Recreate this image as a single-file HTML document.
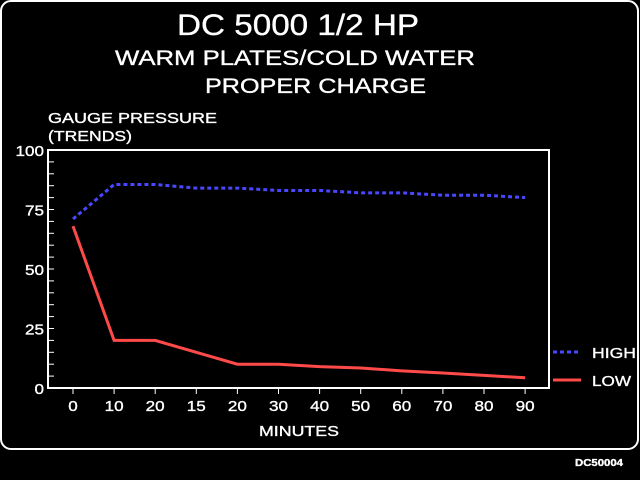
<!DOCTYPE html>
<html><head><meta charset="utf-8"><style>
html,body{margin:0;padding:0;background:#000;}
svg{display:block;font-family:"Liberation Sans",sans-serif;}
text{stroke:#fff;stroke-width:0.35;}
</style></head><body>
<svg id="chart" width="640" height="480" viewBox="0 0 640 480">
<rect x="0" y="0" width="640" height="480" fill="#000"/>
<rect x="1" y="1" width="637" height="448" rx="10" fill="none" stroke="#fff" stroke-width="2"/>
<text x="177" y="35" textLength="242" lengthAdjust="spacingAndGlyphs" font-size="30" fill="#fff">DC 5000 1/2 HP</text>
<text x="115" y="65" textLength="360" lengthAdjust="spacingAndGlyphs" font-size="21" fill="#fff">WARM PLATES/COLD WATER</text>
<text x="205" y="93" textLength="221" lengthAdjust="spacingAndGlyphs" font-size="21" fill="#fff">PROPER CHARGE</text>
<text x="48" y="123" textLength="169" lengthAdjust="spacingAndGlyphs" font-size="15" fill="#fff">GAUGE PRESSURE</text>
<text x="48" y="141" textLength="84" lengthAdjust="spacingAndGlyphs" font-size="15" fill="#fff">(TRENDS)</text>
<text x="259" y="436" textLength="80" lengthAdjust="spacingAndGlyphs" font-size="15" fill="#fff">MINUTES</text>
<text x="575" y="466" textLength="48" lengthAdjust="spacingAndGlyphs" font-size="10" font-weight="bold" fill="#fff">DC50004</text>
<rect x="48" y="150" width="501" height="238" fill="none" stroke="#fff" stroke-width="2"/>
<g id="axes"></g>
<g id="series"></g>
<g>
<line x1="553" y1="352" x2="581" y2="352" stroke="#4848ff" stroke-width="3" stroke-dasharray="4,3"/>
<text x="592" y="358" textLength="44" lengthAdjust="spacingAndGlyphs" font-size="15" fill="#fff">HIGH</text>
<line x1="553" y1="380" x2="581" y2="380" stroke="#ff4a4a" stroke-width="3"/>
<text x="592" y="386" textLength="39" lengthAdjust="spacingAndGlyphs" font-size="15" fill="#fff">LOW</text>
</g>
</svg>
<script>
const categories = ["0","10","20","15","20","30","40","50","60","70","80","90"];
const highValues = [71,85.5,85.5,84,84,83,83,82,82,81,81,80];
const lowValues = [68,20,20,15,10,10,9,8.4,7.2,6.3,5.3,4.3];
const yTicks = [0,25,50,75,100];
const yMinorTicks = [5,10,15,20,30,35,40,45,55,60,65,70,80,85,90,95];

const NS = "http://www.w3.org/2000/svg";
const x0 = 73, dx = 41.1, yBottom = 388, yTop = 150;
function xPos(i){ return x0 + i*dx; }
function yPos(v){ return yBottom - (v/100)*(yBottom-yTop); }
function mk(tag, attrs){ const e=document.createElementNS(NS,tag); for(const k in attrs) e.setAttribute(k,attrs[k]); return e; }

const axes = document.getElementById('axes');
yTicks.forEach(v=>{
  const s = String(v);
  const w = s.length*9.5;
  const t = mk('text',{x:44-w,y:yPos(v)+6,textLength:w,lengthAdjust:'spacingAndGlyphs','font-size':15,fill:'#fff'});
  
  
  t.textContent = s; axes.appendChild(t);
  const l = mk('line',{x1:48,x2:54,y1:yPos(v),y2:yPos(v),stroke:'#fff','stroke-width':1});
  
  
  axes.appendChild(l);
});
yMinorTicks.forEach(v=>{
  const l = mk('line',{x1:48,x2:54,y1:yPos(v),y2:yPos(v),stroke:'#fff','stroke-width':1});
  
  
  axes.appendChild(l);
});
categories.forEach((c,i)=>{
  const l = mk('line',{x1:xPos(i),x2:xPos(i),y1:388,y2:394,stroke:'#fff','stroke-width':1});
  
  
  axes.appendChild(l);
  const w = c.length*9.5;
  const t = mk('text',{x:xPos(i)-w/2,y:411,textLength:w,lengthAdjust:'spacingAndGlyphs','font-size':15,fill:'#fff'});
  
  
  t.textContent = c; axes.appendChild(t);
});

const series = document.getElementById('series');
function pts(vals){ return vals.map((v,i)=>xPos(i)+','+yPos(v)).join(' '); }
const hi = mk('polyline',{points:pts(highValues),fill:'none',stroke:'#4848ff','stroke-width':3,'stroke-dasharray':'4,3'});


series.appendChild(hi);
const lo = mk('polyline',{points:pts(lowValues),fill:'none',stroke:'#ff4a4a','stroke-width':3});


series.appendChild(lo);
</script>
</body></html>
